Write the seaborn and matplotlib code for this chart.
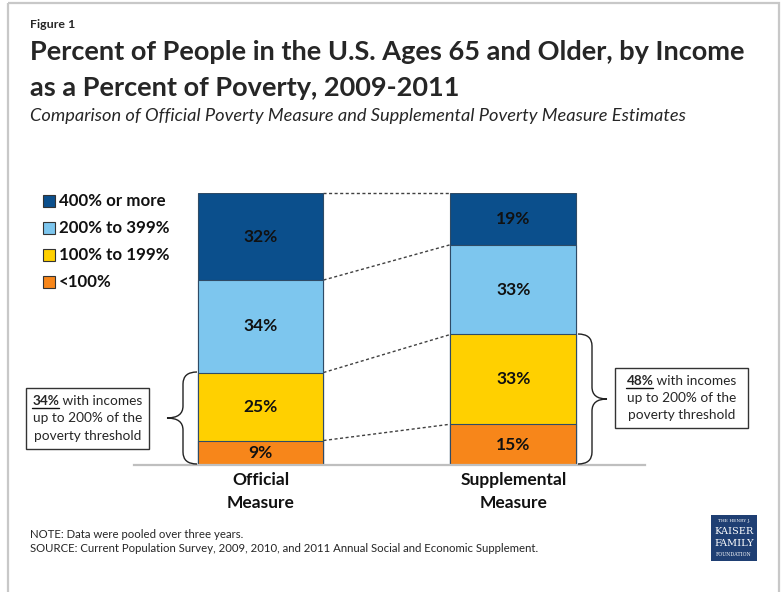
import matplotlib
matplotlib.use("Agg")
import matplotlib.pyplot as plt
import seaborn as sns
import pandas as pd
import numpy as np
from matplotlib.path import Path
from matplotlib.patches import PathPatch, Rectangle

# ---------------- data ----------------
measures = ["Official\nMeasure", "Supplemental\nMeasure"]
categories = ["<100%", "100% to 199%", "200% to 399%", "400% or more"]  # bottom -> top
official = [9, 25, 34, 32]
supplemental = [15, 33, 33, 19]
colors = ["#f7861a", "#ffd000", "#7dc6ee", "#0b4f8c"]
bracket_texts = ["34%", "48%"]

sns.set_theme(style="white")
FONT = "Lato"
plt.rcParams["font.family"] = [FONT, "DejaVu Sans"]

W, H = 781, 592
fig = plt.figure(figsize=(W / 100, H / 100), dpi=100)

# main axes: baseline spans px 134..645 at y=465, 100% at y=193
ax = fig.add_axes([134 / W, (H - 465) / H, 511 / W, 272 / H])

vals = np.array([official, supplemental])  # shape (2, 4)
cum = np.cumsum(vals, axis=1)
bar_w = 0.498
for k in range(len(categories) - 1, -1, -1):
    df = pd.DataFrame({"measure": measures, "top": cum[:, k]})
    sns.barplot(data=df, x="measure", y="top", color=colors[k], saturation=1,
                width=bar_w, edgecolor="#2f4b66", linewidth=0.8, ax=ax, zorder=2)

ax.set_xlim(-0.5, 1.5198)
ax.set_ylim(0, 100)
ax.set_xlabel("")
ax.set_ylabel("")
ax.set_xticks([])
ax.set_yticks([])
for s in ["left", "right", "top"]:
    ax.spines[s].set_visible(False)
ax.spines["bottom"].set_color("#bfbfbf")
ax.spines["bottom"].set_linewidth(1.6)
ax.patch.set_visible(False)

# segment labels
for i in range(2):
    for k in range(4):
        bottom = cum[i, k] - vals[i, k]
        ax.text(i, bottom + vals[i, k] / 2, f"{vals[i, k]}%", ha="center", va="center",
                fontsize=12.5, fontweight="bold", color="#111111", zorder=5)

# dotted connectors between bars
for k in range(4):
    ax.plot([0 + bar_w / 2, 1 - bar_w / 2], [cum[0, k], cum[1, k]], ls=(0, (2.2, 1.8)),
            color="#404040", lw=1.0, zorder=1, clip_on=False)

# category labels (two lines each)
for i, m in enumerate(measures):
    for line, yy in zip(m.split("\n"), [-5.6, -14.0]):
        ax.text(i, yy, line, ha="center", va="center", fontsize=12.5, fontweight="bold",
                color="#111111", clip_on=False)

# ---------------- overlay in pixel coordinates ----------------
ov = fig.add_axes([0, 0, 1, 1])
ov.set_xlim(0, W)
ov.set_ylim(H, 0)
ov.axis("off")
ov.patch.set_visible(False)

# frame
ov.add_patch(Rectangle((8, 3), 771, 600, fill=False, ec="#c8c8c8", lw=1.6))

renderer = fig.canvas.get_renderer()

def fit(t, target):
    bb = t.get_window_extent(renderer=renderer)
    t.set_fontsize(t.get_fontsize() * target / bb.width)

t = ov.text(30, 25, "Figure 1", fontsize=9, fontweight="bold", va="center", ha="left")
fit(t, 45)
t1 = ov.text(30, 52, "Percent of People in the U.S. Ages 65 and Older, by Income",
             fontsize=20, fontweight="bold", va="center", ha="left")
fit(t1, 715)
t2 = ov.text(30, 88, "as a Percent of Poverty, 2009-2011", fontsize=t1.get_fontsize(),
             fontweight="bold", va="center", ha="left")
t3 = ov.text(30, 116, "Comparison of Official Poverty Measure and Supplemental Poverty Measure Estimates",
             fontsize=11, style="italic", va="center", ha="left")
fit(t3, 653)

# legend
leg_y = [201, 228, 255, 282]
for j, k in enumerate(range(3, -1, -1)):
    ov.add_patch(Rectangle((43, leg_y[j] - 6), 12, 12, fc=colors[k], ec="#333333", lw=0.8))
    lt = ov.text(59, leg_y[j], categories[k], fontsize=11.5, fontweight="bold",
                 va="center", ha="left", color="#111111")
    if j == 0:
        fit(lt, 107)
        leg_fs = lt.get_fontsize()
    else:
        lt.set_fontsize(leg_fs)

# braces
def brace(x_end, x_mid, x_tip, y0, y1, r=12):
    ym = (y0 + y1) / 2
    verts = [(x_end, y0), (x_mid, y0), (x_mid, y0 + r),
             (x_mid, ym - r), (x_mid, ym), (x_tip, ym),
             (x_mid, ym), (x_mid, ym + r),
             (x_mid, y1 - r), (x_mid, y1), (x_end, y1)]
    codes = [Path.MOVETO, Path.CURVE3, Path.CURVE3,
             Path.LINETO, Path.CURVE3, Path.CURVE3,
             Path.CURVE3, Path.CURVE3,
             Path.LINETO, Path.CURVE3, Path.CURVE3]
    ov.add_patch(PathPatch(Path(verts, codes), fill=False, ec="#222222", lw=1.0))

brace(197, 183, 167, 372, 464)
brace(578, 592, 607, 334, 464)

# annotation boxes
def note_box(x0, y0, x1, y1, pct):
    ov.add_patch(Rectangle((x0, y0), x1 - x0, y1 - y0, fc="white", ec="#333333", lw=1.0))
    cx = (x0 + x1) / 2
    h = (y1 - y0)
    ys = [y0 + h * 0.22, y0 + h * 0.5, y0 + h * 0.78]
    fs = 9.8
    a = ov.text(cx, ys[0], pct, fontsize=fs, fontweight="bold", va="center", ha="left")
    b = ov.text(cx, ys[0], " with incomes", fontsize=fs, va="center", ha="left")
    wa = a.get_window_extent(renderer=renderer).width
    wb = b.get_window_extent(renderer=renderer).width
    xs = cx - (wa + wb) / 2
    a.set_x(xs)
    b.set_x(xs + wa)
    ov.plot([xs, xs + wa], [ys[0] + 7, ys[0] + 7], color="#111111", lw=1.0)
    ov.text(cx, ys[1], "up to 200% of the", fontsize=fs, va="center", ha="center")
    ov.text(cx, ys[2], "poverty threshold", fontsize=fs, va="center", ha="center")

note_box(26, 388, 149, 449, bracket_texts[0])
note_box(615, 368, 748, 428, bracket_texts[1])

# notes
n1 = ov.text(30, 535, "NOTE: Data were pooled over three years.", fontsize=8, va="center", ha="left")
n2 = ov.text(30, 549, "SOURCE: Current Population Survey, 2009, 2010, and 2011 Annual Social and Economic Supplement.",
             fontsize=8, va="center", ha="left")
fit(n2, 510)
n1.set_fontsize(n2.get_fontsize())

# logo
ov.add_patch(Rectangle((711, 515), 46, 46, fc="#1f3f73", ec="none"))
ov.text(734, 521, "THE HENRY J.", fontsize=3.2, color="white", ha="center", va="center", family="DejaVu Serif")
ov.text(734, 532, "KAISER", fontsize=7, color="white", ha="center", va="center", family="DejaVu Serif")
ov.text(734, 543, "FAMILY", fontsize=7, color="white", ha="center", va="center", family="DejaVu Serif")
ov.text(734, 554, "FOUNDATION", fontsize=3.4, color="white", ha="center", va="center", family="DejaVu Serif")

fig.savefig("out.png", dpi=100, facecolor="white")
